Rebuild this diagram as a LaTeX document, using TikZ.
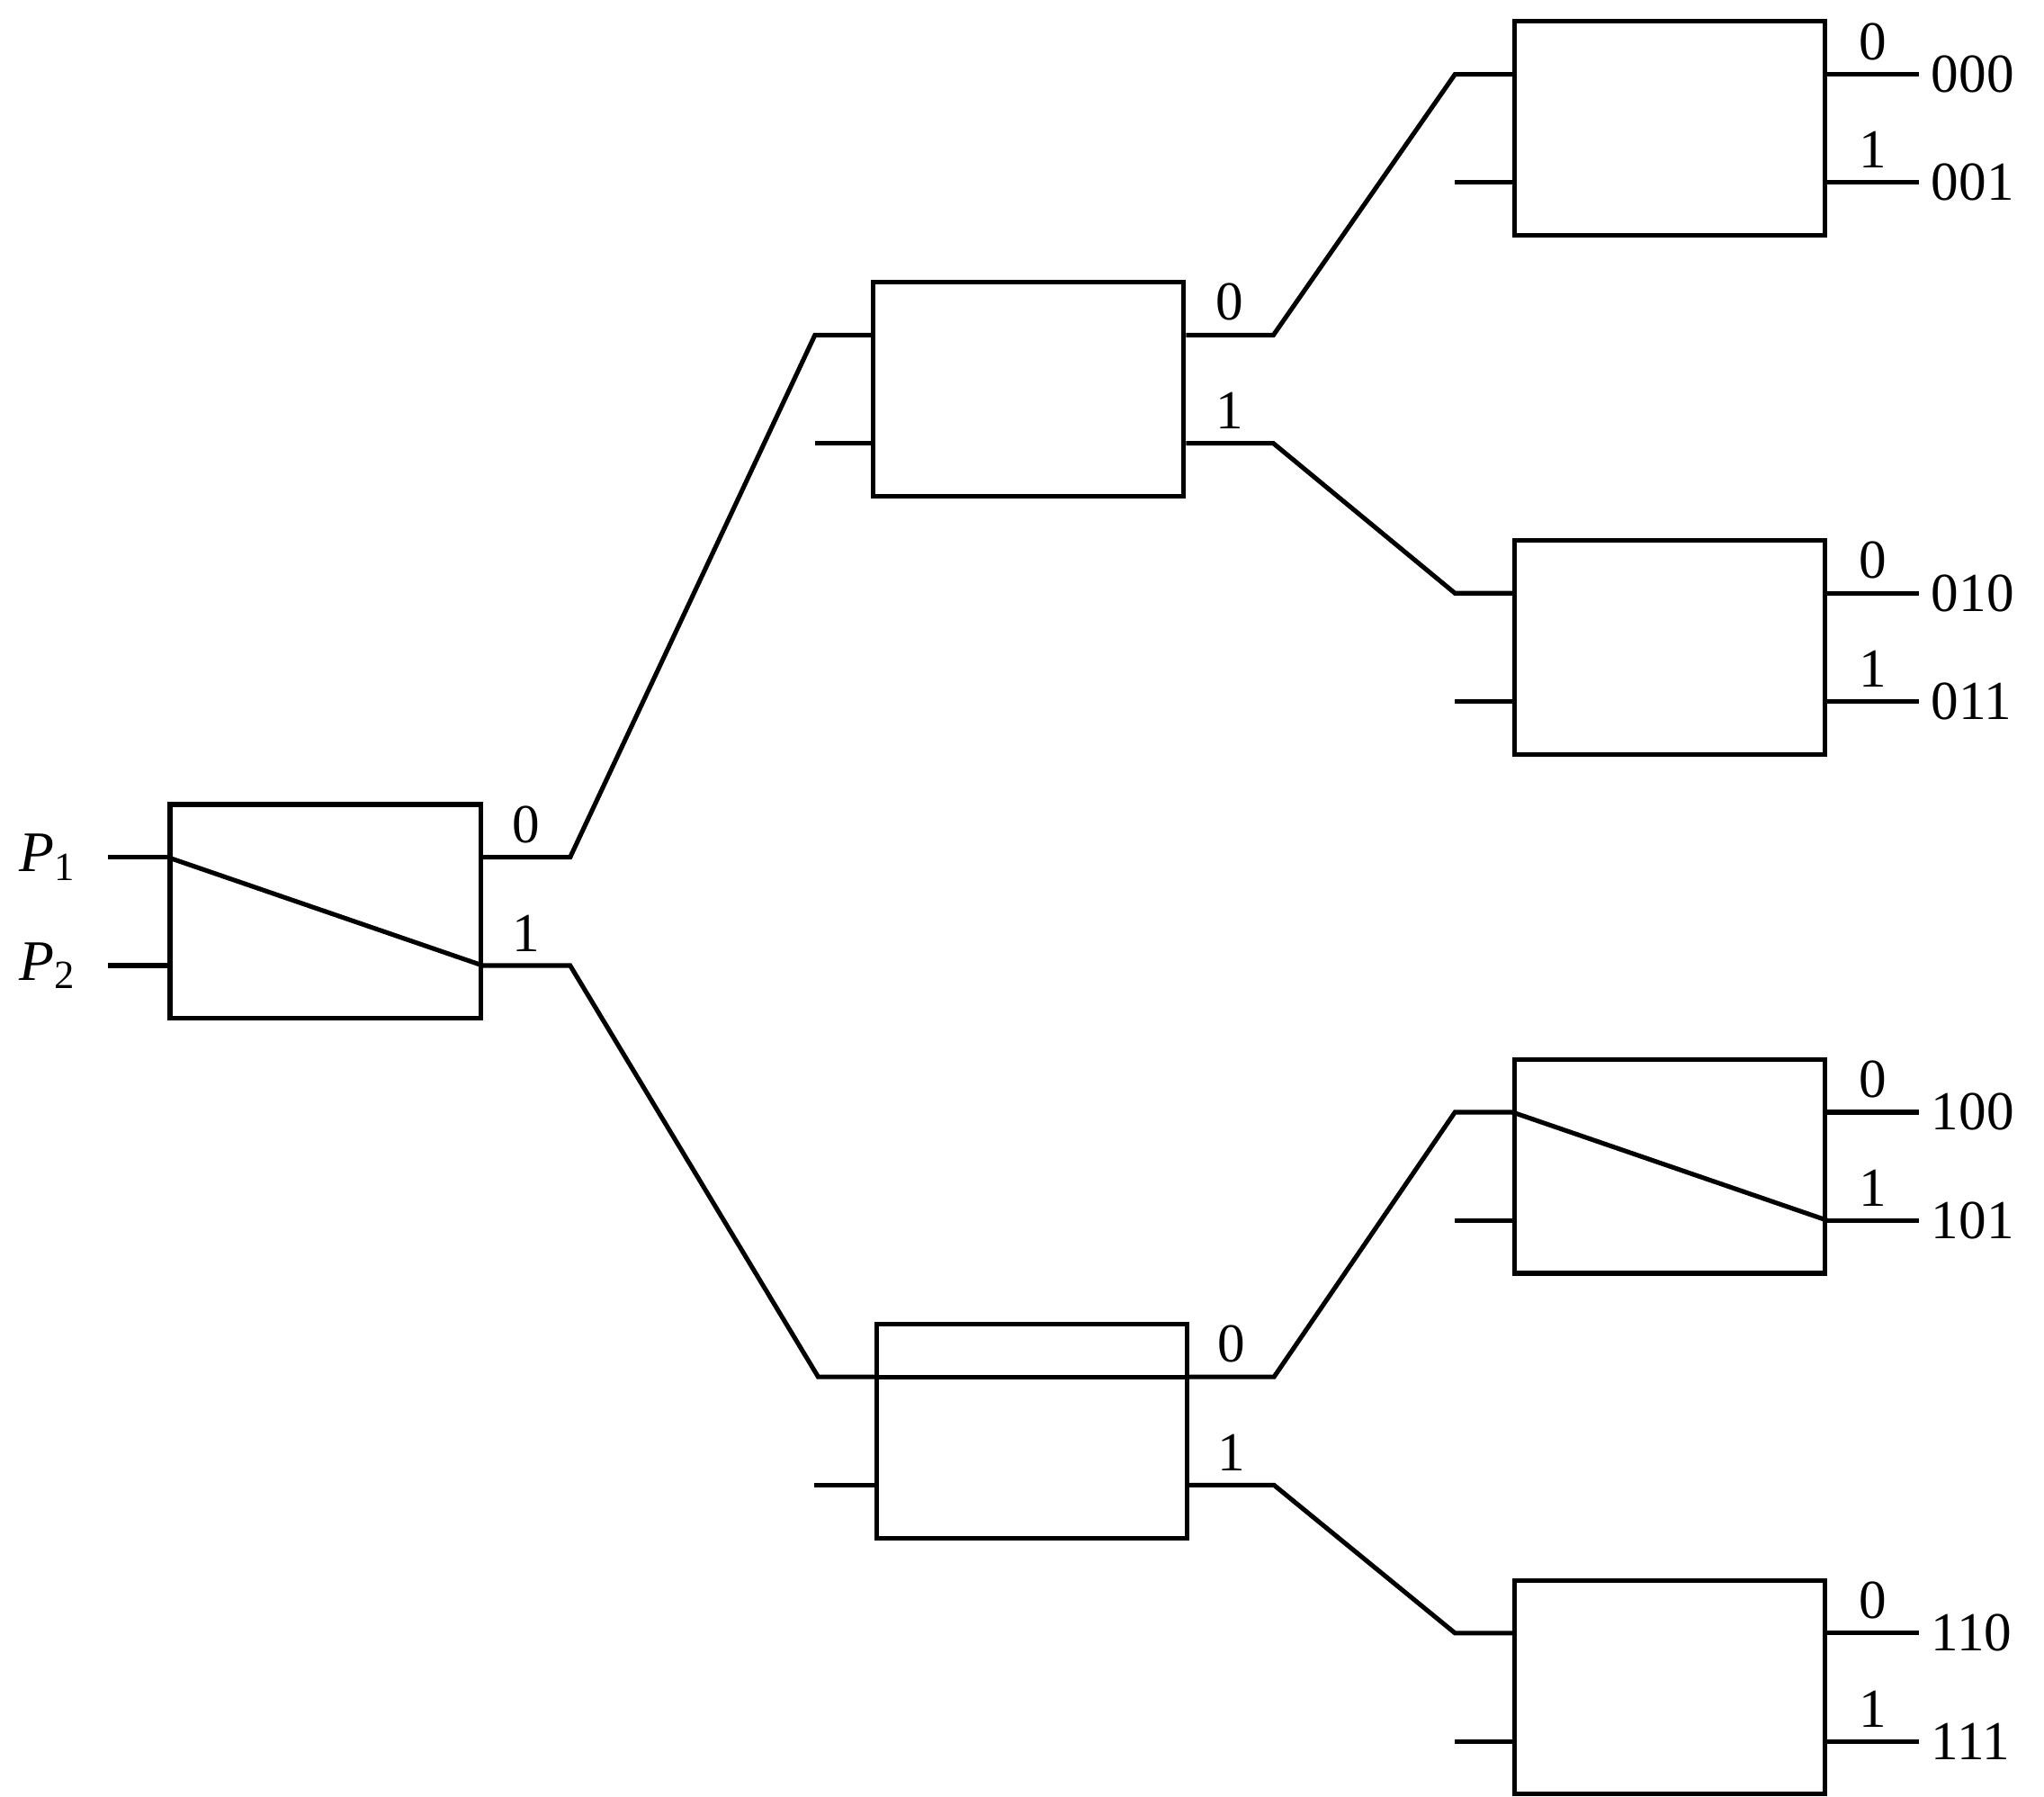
\documentclass[tikz,border=0pt]{standalone}
\usepackage{fontspec}
\setmainfont{Liberation Serif}
\usetikzlibrary{positioning}

\begin{document}
\begin{tikzpicture}[
  x=0.01cm, y=-0.01cm,
  font=\fontsize{12}{14}\selectfont,
  sw/.style={draw, line width=1pt, minimum width=2.38cm, minimum height=1.64cm, inner sep=0pt},
  wire/.style={line width=1pt},
  bit/.style={above, inner sep=0pt, outer sep=0pt, yshift=1.1mm},
  addr/.style={anchor=west, inner sep=0pt, xshift=0.8mm},
]
\useasboundingbox (0,0) rectangle (1568,1378);

% switching boxes
\node[sw] (r)  at (249.5,699) {};
\node[sw] (m0) at (789,298.5) {};
\node[sw] (m1) at (791.5,1097.5) {};
\node[sw] (a)  at (1281,98.5) {};
\node[sw] (b)  at (1281,496.5) {};
\node[sw] (c)  at (1281,894.5) {};
\node[sw] (d)  at (1281,1294) {};

% two input and two output ports per box
\foreach \s in {r,m0,m1,a,b,c,d} {
  \coordinate (\s-i0) at ([yshift=4.15mm]\s.west);
  \coordinate (\s-i1) at ([yshift=-4.15mm]\s.west);
  \coordinate (\s-o0) at ([yshift=4.15mm]\s.east);
  \coordinate (\s-o1) at ([yshift=-4.15mm]\s.east);
}

% first stage
\draw[wire] (r-i0) -- ++(-0.46cm,0) coordinate (r-i0s);
\draw[wire] (r-i1) -- ++(-0.46cm,0) coordinate (r-i1s);
\node[left=2.3mm of r-i0s, inner sep=0pt] (p1) {\fontsize{12.5}{14}\selectfont\textit{P}\textsubscript{1}};
\node[left=2.3mm of r-i1s, inner sep=0pt] (p2) {\fontsize{12.5}{14}\selectfont\textit{P}\textsubscript{2}};
\draw[wire] (r-i0) -- (r-o1);
\draw[wire] (r-o0) -- node[bit] (r-l0) {0} ++(0.67cm,0) -- ([xshift=-0.43cm]m0-i0) -- (m0-i0);
\draw[wire] (r-o1) -- node[bit] (r-l1) {1} ++(0.67cm,0) -- ([xshift=-0.43cm]m1-i0) -- (m1-i0);

% second stage
\draw[wire] (m0-i1) -- ++(-0.43cm,0);
\draw[wire] (m1-i1) -- ++(-0.46cm,0);
\draw[wire] (m1-i0) -- (m1-o0);
\draw[wire] (m0-o0) -- node[bit] (m0-l0) {0} ++(0.67cm,0) -- ([xshift=-0.44cm]a-i0) -- (a-i0);
\draw[wire] (m0-o1) -- node[bit] (m0-l1) {1} ++(0.67cm,0) -- ([xshift=-0.44cm]b-i0) -- (b-i0);
\draw[wire] (m1-o0) -- node[bit] (m1-l0) {0} ++(0.65cm,0) -- ([xshift=-0.44cm]c-i0) -- (c-i0);
\draw[wire] (m1-o1) -- node[bit] (m1-l1) {1} ++(0.65cm,0) -- ([xshift=-0.44cm]d-i0) -- (d-i0);

% third stage
\draw[wire] (c-i0) -- (c-o1);
\foreach \s/\u/\v in {a/000/001, b/010/011, c/100/101, d/110/111} {
  \draw[wire] (\s-i1) -- ++(-0.44cm,0);
  \draw[wire] (\s-o0) -- node[bit] (\s-l0) {0} ++(0.7cm,0) node[addr] (\s-n0) {\u};
  \draw[wire] (\s-o1) -- node[bit] (\s-l1) {1} ++(0.7cm,0) node[addr] (\s-n1) {\v};
}
\end{tikzpicture}
\end{document}
